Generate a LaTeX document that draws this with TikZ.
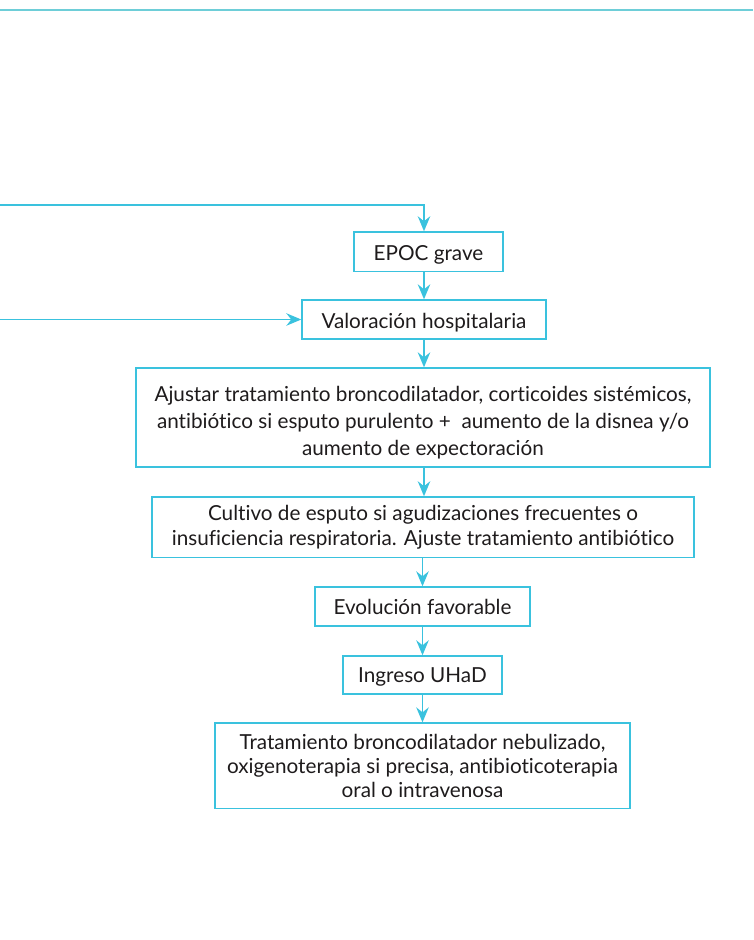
\documentclass[tikz,border=0pt]{standalone}
\usepackage{fontspec}
\setmainfont{Lato}[Ligatures={NoCommon,NoRare}]
\usetikzlibrary{arrows.meta}
\definecolor{flow}{RGB}{58,194,222}
\definecolor{topline}{RGB}{110,206,216}
\definecolor{ink}{RGB}{30,27,28}
\tikzset{
  box/.style={draw=flow, line width=1.4pt, rectangle, inner sep=0pt, align=center,
    text=ink, font=\fontsize{20.7}{27}\selectfont},
  lead/.style={font=\fontsize{20.7}{#1}\selectfont},
  tb/.style 2 args={text height=#1, text depth=#2},
  arr/.style={draw=flow, line width=1.6pt, -{Stealth[length=15pt, width=12.5pt, inset=5pt]}},
}
\begin{document}
\begin{tikzpicture}[x=1pt, y=-1pt]
\useasboundingbox (0,0) rectangle (753,940);
\coordinate (t1) at (0,10);
\coordinate (t2) at (753,10);
\draw[topline, line width=2.2pt] (t1) -- (t2);

\node[box, tb={16.6pt}{0pt}, minimum width=149pt, minimum height=39.5pt] (epoc) at (428.5,251.7) {EPOC grave};
\node[box, tb={17.6pt}{0pt}, minimum width=244pt, minimum height=39pt] (val) at (424,319.5) {Valoración hospitalaria};
\node[box, lead=26.7, tb={75.6pt}{0pt}, minimum width=574pt, minimum height=99pt] (ajus) at (423,417.5) {Ajustar tratamiento broncodilatador, corticoides sistémicos,\\ antibiótico si esputo purulento +\ \ aumento de la disnea y/o\\ aumento de expectoración};
\node[box, lead=25, tb={36pt}{0pt}, minimum width=542pt, minimum height=60.7pt] (cult) at (423,527.3) {Cultivo de esputo si agudizaciones frecuentes o\\ insuficiencia respiratoria. Ajuste tratamiento antibiótico};
\node[box, tb={15pt}{0pt}, minimum width=215pt, minimum height=39pt] (evol) at (422.5,606.5) {Evolución favorable};
\node[box, tb={14pt}{0pt}, minimum width=159pt, minimum height=38pt] (ingr) at (422.5,675) {Ingreso UHaD};
\node[box, lead=23.8, tb={62.8pt}{0pt}, minimum width=415pt, minimum height=85.7pt] (trat) at (422.5,765.9) {Tratamiento broncodilatador nebulizado,\\ oxigenoterapia si precisa, antibioticoterapia\\ oral o intravenosa};

\coordinate (l1) at (0,205);
\coordinate (l2) at (0,319.5);
\draw[arr] (l1) -| (val.north |- epoc.north);
\draw[arr] (val.north |- epoc.south) -- (val.north);
\draw[arr] (l2) -- (val.west);
\draw[arr] (val.south) -- (val.south |- ajus.north);
\draw[arr] (val.south |- ajus.south) -- (val.south |- cult.north);
\draw[arr] (evol.north |- cult.south) -- (evol.north);
\draw[arr] (evol.south) -- (ingr.north);
\draw[arr] (ingr.south) -- (trat.north);
\end{tikzpicture}
\end{document}
